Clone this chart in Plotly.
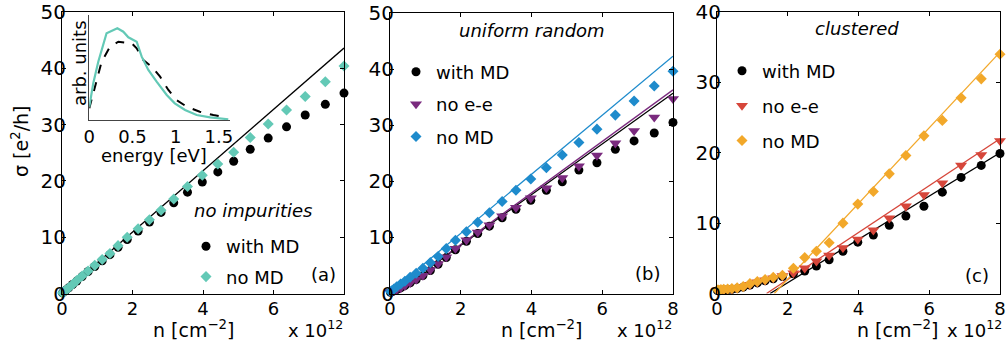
import plotly.graph_objects as go

W, H = 1006, 342
FONT = "DejaVu Sans"

# ---------------- data ----------------
n = [0.015, 0.05, 0.11, 0.19, 0.30, 0.42, 0.57, 0.74, 0.93, 1.14, 1.36, 1.59, 1.85, 2.16,
     2.48, 2.81, 3.17, 3.56, 3.98, 4.42, 4.87, 5.34, 5.85, 6.37, 6.90, 7.47, 8.0]

# panel (a): no impurities
a_with_md = [0.1, 0.3, 0.6, 1.0, 1.6, 2.2, 3.0, 3.9, 4.8, 5.8, 6.9, 8.2, 9.6, 11.1,
             12.7, 14.4, 16.1, 18.0, 19.8, 21.6, 23.5, 25.6, 27.6, 29.6, 31.7, 33.6, 35.6]
a_no_md = [0.1, 0.3, 0.6, 1.0, 1.6, 2.3, 3.1, 4.0, 5.0, 6.05, 7.1, 8.5, 10.0, 11.5,
           13.1, 14.8, 16.8, 19.0, 21.0, 23.0, 25.1, 27.7, 30.1, 32.6, 35.0, 37.6, 40.4]
a_fit_n = [0.0, 8.0]
a_fit_s = [0.0, 43.6]

# panel (b): uniform random
b_with_md = [0.2, 0.3, 0.5, 0.7, 1.0, 1.4, 1.9, 2.5, 3.2, 4.1, 5.2, 6.4, 7.8, 9.3,
             10.7, 12.0, 13.5, 15.0, 16.6, 18.4, 19.9, 22.0, 23.3, 25.7, 27.2, 28.6, 30.5]
b_no_ee = [0.2, 0.3, 0.5, 0.7, 1.0, 1.4, 1.9, 2.5, 3.2, 4.2, 5.3, 6.5, 8.0, 9.5,
           10.9, 12.2, 13.8, 15.3, 17.0, 18.8, 20.6, 22.7, 24.6, 26.8, 29.0, 31.4, 34.7]
b_no_md = [0.3, 0.5, 0.8, 1.2, 1.7, 2.2, 2.9, 3.6, 4.5, 5.5, 6.6, 8.0, 9.5, 11.0,
           12.7, 14.4, 16.4, 18.4, 20.4, 22.4, 24.7, 26.9, 29.3, 31.8, 34.3, 37.0, 39.6]
b_fit_with_md_n = [0.1, 8.0]
b_fit_with_md_s = [0.0, 35.7]
b_fit_no_ee_n = [0.1, 8.0]
b_fit_no_ee_s = [0.0, 36.3]
b_fit_no_md_n = [0.0, 8.0]
b_fit_no_md_s = [0.2, 42.3]

# panel (c): clustered
c_with_md = [0.4, 0.4, 0.45, 0.5, 0.55, 0.6, 0.7, 0.9, 1.2, 1.5, 1.8, 2.1, 2.4, 2.8,
             3.2, 3.9, 4.8, 6.0, 7.3, 8.3, 9.7, 11.0, 12.4, 14.4, 16.5, 18.2, 19.9]
c_no_ee = [0.45, 0.45, 0.5, 0.55, 0.6, 0.65, 0.75, 0.95, 1.25, 1.6, 1.9, 2.2, 2.5, 2.9,
           3.6, 4.6, 5.4, 6.5, 7.7, 9.0, 10.7, 12.4, 14.0, 15.7, 18.2, 19.7, 21.7]
c_no_md = [0.5, 0.5, 0.55, 0.6, 0.65, 0.7, 0.8, 1.0, 1.4, 1.7, 2.0, 2.3, 2.6, 3.6,
           5.1, 6.0, 7.2, 10.0, 12.7, 14.5, 17.0, 19.6, 22.4, 24.6, 27.8, 30.5, 34.0]
c_fit_with_md_n = [1.5, 8.0]
c_fit_with_md_s = [0.0, 20.0]
c_fit_no_ee_n = [1.4, 8.0]
c_fit_no_ee_s = [0.0, 22.0]
c_fit_no_md_n = [1.62, 8.0]
c_fit_no_md_s = [0.0, 34.3]

# inset: energy distribution (arb. units)
inset_e_no_md = [0.00, 0.046, 0.104, 0.20, 0.325, 0.394, 0.452, 0.549, 0.607, 0.684,
                 0.78, 0.897, 0.99, 1.109, 1.244, 1.40, 1.61]
inset_no_md = [13.3, 36.7, 58.3, 86.7, 91.7, 88.3, 82.7, 78.3, 63.3, 50.0,
               38.3, 25.0, 16.7, 10.0, 5.0, 2.7, 0.7]
inset_e_with_md = [0.00, 0.066, 0.143, 0.24, 0.336, 0.414, 0.491, 0.549, 0.626, 0.723,
                   0.82, 0.916, 1.01, 1.13, 1.28, 1.437, 1.57]
inset_with_md = [11.7, 33.3, 58.3, 73.3, 78.3, 77.3, 76.7, 71.7, 60.0, 53.3,
                 43.3, 30.0, 20.0, 13.3, 8.3, 5.0, 2.7]

x_ticks = [0, 2, 4, 6, 8]
y_ticks_ab = [0, 10, 20, 30, 40, 50]
y_ticks_c = [0, 10, 20, 30, 40]
inset_ticks = [0, 0.5, 1, 1.5]
inset_ticktext = ["0", "0.5", "1", "1.5"]

# colours
BLACK = "#000000"
TEAL = "#63C9B6"
BLUE = "#1E8BCC"
PURPLE = "#7A2A7E"
ORANGE = "#F2A82A"
RED = "#D6463A"


def px(x):
    return x / W


def py(y):
    return 1 - y / H


fig = go.Figure()

SZ_CIRCLE, SZ_DIAMOND, SZ_TRI = 9, 8.5, 10.5


def markers(x, y, name, color, symbol, size, xa, ya, legend, group):
    fig.add_trace(go.Scatter(
        x=x, y=y, mode="markers", name=name, xaxis=xa, yaxis=ya,
        marker=dict(color=color, symbol=symbol, size=size, line=dict(width=0)),
        cliponaxis=False, legend=legend, legendgroup=group, showlegend=True))


def fitline(x, y, color, xa, ya):
    fig.add_trace(go.Scatter(
        x=x, y=y, mode="lines", xaxis=xa, yaxis=ya, showlegend=False,
        line=dict(color=color, width=1.3)))


# panel a
fitline(a_fit_n, a_fit_s, BLACK, "x", "y")
markers(n, a_with_md, "with MD", BLACK, "circle", SZ_CIRCLE, "x", "y", "legend", "a1")
markers(n, a_no_md, "no MD", TEAL, "diamond", SZ_DIAMOND, "x", "y", "legend", "a2")

# panel b
fitline(b_fit_with_md_n, b_fit_with_md_s, BLACK, "x2", "y2")
fitline(b_fit_no_ee_n, b_fit_no_ee_s, PURPLE, "x2", "y2")
fitline(b_fit_no_md_n, b_fit_no_md_s, BLUE, "x2", "y2")
markers(n, b_with_md, "with MD", BLACK, "circle", SZ_CIRCLE, "x2", "y2", "legend2", "b1")
markers(n, b_no_ee, "no e-e", PURPLE, "triangle-down", SZ_TRI, "x2", "y2", "legend2", "b2")
markers(n, b_no_md, "no MD", BLUE, "diamond", SZ_DIAMOND, "x2", "y2", "legend2", "b3")

# panel c
fitline(c_fit_with_md_n, c_fit_with_md_s, BLACK, "x3", "y3")
fitline(c_fit_no_ee_n, c_fit_no_ee_s, RED, "x3", "y3")
fitline(c_fit_no_md_n, c_fit_no_md_s, ORANGE, "x3", "y3")
markers(n, c_with_md, "with MD", BLACK, "circle", SZ_CIRCLE, "x3", "y3", "legend3", "c1")
markers(n, c_no_ee, "no e-e", RED, "triangle-down", SZ_TRI, "x3", "y3", "legend3", "c2")
markers(n, c_no_md, "no MD", ORANGE, "diamond", SZ_DIAMOND, "x3", "y3", "legend3", "c3")

# inset
fig.add_trace(go.Scatter(x=inset_e_with_md, y=inset_with_md, mode="lines", xaxis="x4", yaxis="y4",
                         showlegend=False, line=dict(color=BLACK, width=2, dash="dash")))
fig.add_trace(go.Scatter(x=inset_e_no_md, y=inset_no_md, mode="lines", xaxis="x4", yaxis="y4",
                         showlegend=False, line=dict(color=TEAL, width=2.2)))

common = dict(showline=True, linecolor="black", linewidth=1, mirror="ticks", ticks="inside",
              ticklen=4, tickwidth=1, tickcolor="black", showgrid=False, zeroline=False,
              fixedrange=True, automargin=False)
ycommon = dict(common, ticklabelstandoff=-9, tickfont=dict(family=FONT, size=20, color="black"))
xcommon = dict(common, ticklabelstandoff=-1, tickfont=dict(family=FONT, size=18, color="black"))

ytop, ybot = 12, 293.5
dom_y = [py(ybot), py(ytop)]

fig.update_layout(
    width=W, height=H, margin=dict(l=0, r=0, t=0, b=0, pad=0, autoexpand=False),
    paper_bgcolor="white", plot_bgcolor="rgba(0,0,0,0)",
    font=dict(family=FONT, size=18, color="black"),
    xaxis=dict(domain=[px(62), px(344)], range=[0, 8], tickvals=x_ticks, anchor="y", **xcommon),
    yaxis=dict(domain=dom_y, range=[0, 50], tickvals=y_ticks_ab, anchor="x", **ycommon),
    xaxis2=dict(domain=[px(390), px(673)], range=[0, 8], tickvals=x_ticks, anchor="y2", **xcommon),
    yaxis2=dict(domain=[py(ybot), py(13)], range=[0, 50], tickvals=y_ticks_ab, anchor="x2", **ycommon),
    xaxis3=dict(domain=[px(717), px(1000)], range=[0, 8], tickvals=x_ticks, anchor="y3", **xcommon),
    yaxis3=dict(domain=dom_y, range=[0, 40], tickvals=y_ticks_c, anchor="x3", **ycommon),
    xaxis4=dict(domain=[px(89.3), px(230)], range=[0, 1.63], tickvals=inset_ticks,
                ticktext=inset_ticktext, anchor="y4", showline=True, linecolor="#444",
                linewidth=1, ticks="", showgrid=False, zeroline=False,
                tickfont=dict(family=FONT, size=18, color="black"),
                fixedrange=True, automargin=False),
    yaxis4=dict(domain=[py(120), py(15)], range=[0, 105], anchor="x4", showline=True,
                linecolor="#444", linewidth=1, ticks="", showticklabels=False,
                showgrid=False, zeroline=False, fixedrange=True, automargin=False),
    showlegend=True,
)

leg_common = dict(xanchor="left", yanchor="top", bgcolor="rgba(0,0,0,0)", borderwidth=0,
                  font=dict(family=FONT, size=18, color="black"), traceorder="grouped",
                  itemclick=False, itemdoubleclick=False)
fig.update_layout(
    legend=dict(x=px(186), y=py(228), tracegroupgap=4, **leg_common),
    legend2=dict(x=px(396), y=py(53.5), tracegroupgap=6, **leg_common),
    legend3=dict(x=px(722), y=py(52.5), tracegroupgap=8.5, **leg_common),
)


def ann(text, x, y, angle=0, xanchor="center", size=18):
    fig.add_annotation(text=text, x=px(x), y=py(y), xref="paper", yref="paper",
                       showarrow=False, textangle=angle, xanchor=xanchor, yanchor="middle",
                       font=dict(family=FONT, size=size, color="black"))


ann("σ [e<sup>2</sup>/h]", 20, 141, angle=-90, size=19)
ann("n [cm<sup>−2</sup>]", 193, 329, size=19)
ann("x 10<sup>12</sup>", 345, 329, xanchor="right")
ann("n [cm<sup>−2</sup>]", 541, 329, size=19)
ann("x 10<sup>12</sup>", 674, 329, xanchor="right")
ann("n [cm<sup>−2</sup>]", 897, 329, size=19)
ann("x 10<sup>12</sup>", 1004, 329, xanchor="right")
ann("energy [eV]", 154, 155)
ann("arb. units", 79, 63, angle=-90)
ann("<i>no impurities</i>", 253, 210)
ann("<i>uniform random</i>", 532, 30)
ann("<i>clustered</i>", 857, 29)
ann("(a)", 323, 274)
ann("(b)", 647, 273)
ann("(c)", 977, 275)

fig.write_html("out.html", config={"responsive": False, "displayModeBar": False},
               post_script="document.body.style.margin='0px';document.body.style.padding='0px';")
